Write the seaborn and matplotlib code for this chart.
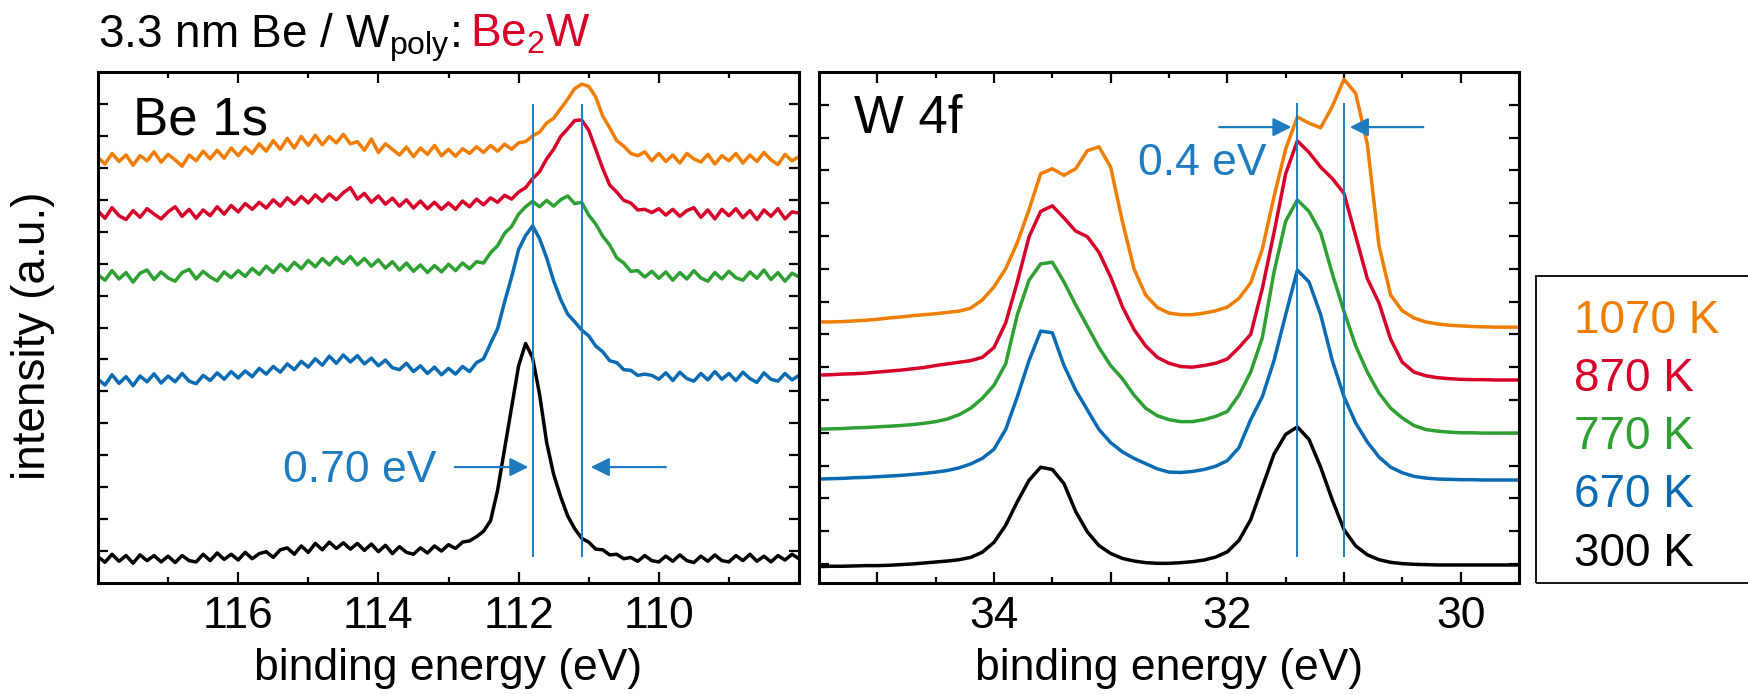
import numpy as np
import pandas as pd
import matplotlib
matplotlib.use("Agg")
import matplotlib.pyplot as plt
import seaborn as sns
from matplotlib.patches import Rectangle

# ---------------- data ----------------
temps = ["1070 K", "870 K", "770 K", "670 K", "300 K"]
colors = ["#EF7D00", "#D7002A", "#2E9F32", "#0A6BB3", "#000000"]
ann_blue = "#1E7BC0"

# Be 1s, binding energy 118.0 -> 108.0 eV in 0.1 eV steps
be_energy = np.round(np.linspace(118.0, 108.0, 101), 2)
be_1070 = [13.32, 13.12, 13.45, 13.20, 13.40, 13.08, 13.38, 13.22, 13.50, 13.18,
           13.42, 13.25, 13.05, 13.40, 13.22, 13.52, 13.28, 13.55, 13.30, 13.62,
           13.38, 13.65, 13.45, 13.75, 13.52, 13.85, 13.58, 13.92, 13.62, 13.98,
           13.70, 14.02, 13.72, 13.98, 13.78, 14.05, 13.75, 13.82, 13.55, 13.90,
           13.48, 13.75, 13.58, 13.40, 13.65, 13.35, 13.62, 13.42, 13.70, 13.38,
           13.58, 13.36, 13.60, 13.45, 13.66, 13.48, 13.70, 13.52, 13.74, 13.58,
           13.78, 13.82, 14.00, 14.12, 14.40, 14.55, 14.85, 15.15, 15.48, 15.62,
           15.55, 15.22, 14.62, 14.25, 13.85, 13.68, 13.45, 13.38, 13.50, 13.22,
           13.45, 13.20, 13.40, 13.15, 13.45, 13.28, 13.18, 13.42, 13.12, 13.38,
           13.22, 13.45, 13.15, 13.40, 13.20, 13.48, 13.25, 13.10, 13.42, 13.22,
           13.35]
be_870 = [11.65, 11.42, 11.75, 11.50, 11.38, 11.66, 11.45, 11.72, 11.55, 11.40,
          11.62, 11.78, 11.48, 11.70, 11.42, 11.68, 11.50, 11.78, 11.55, 11.82,
          11.62, 11.88, 11.70, 11.92, 11.74, 12.00, 11.80, 12.06, 11.86, 12.10,
          11.90, 12.15, 11.95, 12.18, 12.00, 12.22, 12.38, 12.02, 12.20, 11.92,
          12.12, 11.86, 12.05, 11.80, 12.00, 11.74, 11.96, 11.72, 11.92, 11.70,
          11.90, 11.70, 11.96, 11.78, 12.02, 11.84, 12.06, 11.92, 12.14, 12.02,
          12.24, 12.38, 12.66, 12.88, 13.28, 13.58, 13.98, 14.22, 14.48, 14.50,
          14.18, 13.58, 12.98, 12.46, 12.24, 11.98, 11.90, 11.68, 11.70, 11.60,
          11.72, 11.52, 11.70, 11.48, 11.66, 11.75, 11.45, 11.68, 11.40, 11.70,
          11.50, 11.72, 11.44, 11.66, 11.38, 11.68, 11.48, 11.72, 11.40, 11.62,
          11.58]
be_770 = [9.65, 9.48, 9.78, 9.52, 9.72, 9.42, 9.70, 9.80, 9.50, 9.74,
          9.55, 9.45, 9.72, 9.82, 9.52, 9.76, 9.58, 9.46, 9.74, 9.56,
          9.78, 9.60, 9.85, 9.66, 9.92, 9.72, 9.98, 9.78, 10.04, 9.84,
          10.10, 9.90, 10.16, 9.96, 10.20, 10.00, 10.22, 9.96, 10.16, 9.92,
          10.12, 9.86, 10.06, 9.80, 10.02, 9.76, 9.96, 9.72, 9.94, 9.74,
          9.98, 9.78, 10.02, 9.84, 10.06, 10.02, 10.34, 10.56, 10.95, 11.16,
          11.55, 11.78, 11.95, 11.78, 11.98, 11.80, 12.00, 12.12, 11.88, 11.92,
          11.52, 11.24, 10.86, 10.58, 10.18, 10.02, 9.76, 9.78, 9.58, 9.76,
          9.54, 9.74, 9.48, 9.72, 9.52, 9.78, 9.55, 9.45, 9.72, 9.52,
          9.76, 9.56, 9.48, 9.74, 9.54, 9.80, 9.50, 9.72, 9.45, 9.70,
          9.58]
be_670 = [6.38, 6.20, 6.52, 6.25, 6.46, 6.18, 6.48, 6.30, 6.55, 6.26,
          6.48, 6.30, 6.56, 6.32, 6.24, 6.50, 6.34, 6.58, 6.38, 6.62,
          6.42, 6.64, 6.46, 6.72, 6.54, 6.78, 6.60, 6.86, 6.68, 6.94,
          6.76, 7.02, 6.82, 7.10, 6.88, 7.14, 6.92, 7.12, 6.86, 7.04,
          6.80, 6.98, 6.74, 6.68, 6.88, 6.62, 6.80, 6.56, 6.76, 6.52,
          6.72, 6.54, 6.78, 6.62, 6.90, 7.02, 7.50, 7.96, 8.80, 9.58,
          10.44, 10.88, 11.18, 10.78, 10.18, 9.46, 8.88, 8.42, 8.18, 7.92,
          7.74, 7.42, 7.24, 6.96, 6.90, 6.68, 6.66, 6.50, 6.54, 6.50,
          6.38, 6.58, 6.34, 6.60, 6.40, 6.32, 6.56, 6.36, 6.62, 6.38,
          6.56, 6.34, 6.60, 6.40, 6.28, 6.58, 6.38, 6.32, 6.56, 6.36,
          6.50]
be_300 = [0.82, 0.65, 0.90, 0.68, 0.86, 0.62, 0.88, 0.70, 0.86, 0.66,
          0.84, 0.64, 0.86, 0.70, 0.66, 0.90, 0.70, 0.94, 0.74, 0.90,
          0.72, 0.96, 0.76, 0.92, 0.98, 0.80, 1.04, 1.10, 0.90, 1.16,
          0.96, 1.24, 1.04, 1.28, 1.08, 1.26, 1.06, 1.24, 1.02, 1.22,
          0.98, 1.18, 0.92, 1.14, 0.96, 0.90, 1.10, 0.94, 1.16, 1.00,
          1.20, 1.08, 1.28, 1.32, 1.45, 1.62, 1.95, 2.90, 4.20, 5.50,
          6.80, 7.50, 7.05, 5.90, 4.40, 3.40, 2.70, 2.10, 1.70, 1.40,
          1.28, 1.06, 1.04, 0.88, 0.90, 0.76, 0.80, 0.68, 0.86, 0.70,
          0.66, 0.84, 0.68, 0.88, 0.70, 0.64, 0.84, 0.68, 0.88, 0.70,
          0.66, 0.86, 0.70, 0.90, 0.68, 0.84, 0.66, 0.86, 0.72, 0.90,
          0.76]

# W 4f, binding energy 35.5 -> 29.5 eV in 0.1 eV steps
w_energy = np.round(np.linspace(35.5, 29.5, 61), 2)
w_1070 = [7.38, 7.38, 7.39, 7.41, 7.43, 7.46, 7.50, 7.53, 7.57, 7.60,
          7.63, 7.67, 7.71, 7.80, 8.05, 8.45, 9.00, 9.80, 10.80, 11.90,
          12.05, 11.85, 12.05, 12.60, 12.72, 12.10, 10.45, 9.00, 8.20, 7.82,
          7.65, 7.60, 7.60, 7.65, 7.72, 7.83, 8.10, 8.57, 9.60, 11.20,
          12.65, 13.63, 13.44, 13.30, 13.95, 14.78, 14.35, 12.80, 9.70, 8.20,
          7.72, 7.50, 7.38, 7.32, 7.28, 7.26, 7.24, 7.23, 7.22, 7.22,
          7.22]
w_870 = [5.76, 5.77, 5.79, 5.80, 5.82, 5.85, 5.88, 5.91, 5.95, 5.99,
         6.05, 6.10, 6.15, 6.20, 6.30, 6.60, 7.35, 8.60, 9.97, 10.75,
         10.92, 10.55, 10.15, 9.98, 9.50, 8.75, 7.85, 7.15, 6.65, 6.30,
         6.12, 6.02, 6.00, 6.05, 6.12, 6.25, 6.60, 7.00, 8.40, 10.10,
         11.90, 12.90, 12.55, 12.10, 11.75, 11.30, 10.00, 8.70, 7.96, 6.85,
         6.15, 5.85, 5.74, 5.68, 5.65, 5.63, 5.62, 5.62, 5.61, 5.61,
         5.61]
w_770 = [4.11, 4.12, 4.13, 4.15, 4.16, 4.18, 4.20, 4.22, 4.25, 4.29,
         4.34, 4.42, 4.55, 4.75, 5.05, 5.45, 6.10, 7.60, 8.65, 9.15,
         9.20, 8.60, 7.90, 7.25, 6.60, 6.05, 5.65, 5.15, 4.75, 4.52,
         4.40, 4.34, 4.34, 4.40, 4.50, 4.65, 5.15, 5.85, 6.90, 8.90,
         10.45, 11.10, 10.75, 10.10, 8.85, 7.70, 6.65, 5.85, 5.21, 4.75,
         4.45, 4.22, 4.10, 4.05, 4.02, 4.00, 4.00, 3.99, 3.99, 3.99,
         3.99]
w_670 = [2.59, 2.60, 2.61, 2.63, 2.64, 2.66, 2.68, 2.70, 2.73, 2.76,
         2.80, 2.85, 2.93, 3.05, 3.22, 3.50, 4.10, 5.10, 6.20, 7.10,
         7.05, 6.05, 5.30, 4.70, 4.10, 3.70, 3.42, 3.22, 3.06, 2.90,
         2.80, 2.79, 2.82, 2.88, 2.98, 3.15, 3.55, 4.40, 5.10, 6.20,
         7.60, 8.96, 8.60, 7.60, 6.20, 5.10, 4.30, 3.72, 3.26, 2.95,
         2.78, 2.67, 2.62, 2.59, 2.58, 2.57, 2.57, 2.56, 2.56, 2.56,
         2.56]
w_300 = [-0.08, -0.07, -0.07, -0.06, -0.05, -0.05, -0.04, -0.02, 0.00, 0.03,
         0.06, 0.09, 0.13, 0.20, 0.36, 0.66, 1.18, 1.90, 2.55, 2.95,
         2.88, 2.45, 1.60, 0.98, 0.56, 0.32, 0.17, 0.09, 0.04, 0.02,
         0.02, 0.04, 0.07, 0.12, 0.21, 0.37, 0.72, 1.35, 2.35, 3.35,
         3.95, 4.18, 3.80, 2.95, 1.95, 1.05, 0.55, 0.28, 0.13, 0.05,
         0.01, -0.01, -0.02, -0.03, -0.03, -0.03, -0.03, -0.03, -0.03, -0.03,
         -0.03]

be_lines = [111.8, 111.1]
w_lines = [31.4, 31.0]
be_shift_label = "0.70 eV"
w_shift_label = "0.4 eV"

be_series = [be_1070, be_870, be_770, be_670, be_300]
w_series = [w_1070, w_870, w_770, w_670, w_300]
for s in be_series:
    assert len(s) == len(be_energy), len(s)
for s in w_series:
    assert len(s) == len(w_energy), len(s)


def long_df(energy, series):
    frames = []
    for t, vals in zip(temps, series):
        frames.append(pd.DataFrame({"energy": energy, "intensity": vals, "temperature": t}))
    return pd.concat(frames, ignore_index=True)


be_df = long_df(be_energy, be_series)
w_df = long_df(w_energy, w_series)
palette = dict(zip(temps, colors))

# ---------------- style ----------------
sns.set_theme(style="ticks")
plt.rcParams["font.family"] = ["Liberation Sans", "DejaVu Sans"]
plt.rcParams["mathtext.default"] = "regular"
plt.rcParams.update({
    "xtick.direction": "in", "ytick.direction": "in",
    "xtick.top": True, "ytick.right": True,
    "axes.linewidth": 2.2,
    "text.color": "black", "axes.labelcolor": "black",
    "xtick.color": "black", "ytick.color": "black",
    "axes.edgecolor": "black",
    "lines.solid_joinstyle": "round",
})

W, H = 1748, 694
fig = plt.figure(figsize=(W / 100, H / 100), dpi=100)
fig.patch.set_facecolor("white")


def fx(px):
    return px / W


def fy(py):
    return 1 - py / H


ax1 = fig.add_axes([fx(98), fy(583), (799 - 98) / W, (583 - 72) / H])
ax2 = fig.add_axes([fx(819), fy(583), (1519 - 819) / W, (583 - 72) / H])

for ax, df in ((ax1, be_df), (ax2, w_df)):
    sns.lineplot(data=df, x="energy", y="intensity", hue="temperature",
                 palette=palette, estimator=None, sort=False, legend=False,
                 linewidth=2.5, ax=ax)
    for ln in ax.lines:
        ln.set_solid_joinstyle("round")
    ax.set_facecolor("white")
    for sp in ax.spines.values():
        sp.set_visible(True)
        sp.set_linewidth(2.2)
        sp.set_color("black")
    ax.set_ylabel("")
    ax.set_xlabel("binding energy (eV)", fontsize=32, labelpad=8, color="black")
    ax.tick_params(axis="both", which="major", length=8, width=1.6, color="black",
                   labelcolor="black", labelsize=32, pad=9, top=True, right=True)
    ax.tick_params(axis="both", which="minor", length=4.5, width=1.6, color="black",
                   top=True, right=True)
    ax.tick_params(axis="y", labelleft=False, labelright=False, length=7)

# Be 1s axes
ax1.set_xlim(118, 108)
ax1.set_ylim(0, 16)
ax1.set_xticks([116, 114, 112, 110])
ax1.set_xticklabels(["116", "114", "112", "110"])
ax1.set_xticks([117, 115, 113, 111, 109], minor=True)
ax1.set_yticks(range(1, 16))

# W 4f axes
ax2.set_xlim(35.5, 29.5)
ax2.set_ylim(-0.58, 15.0)
ax2.set_xticks([35, 34, 33, 32, 31, 30])
ax2.set_xticklabels(["", "34", "", "32", "", "30"])
ax2.set_xticks([34.5, 33.5, 32.5, 31.5, 30.5], minor=True)
ax2.set_yticks(range(0, 15))

# shift markers
for x in be_lines:
    ax1.vlines(x, 0.8, 15.0, color=ann_blue, lw=1.4, zorder=4)
for x in w_lines:
    ax2.vlines(x, 0.21, 14.05, color=ann_blue, lw=1.4, zorder=4)

arrow_kw = dict(arrowstyle="-|>", color=ann_blue, lw=1.6, mutation_scale=28,
                shrinkA=0, shrinkB=0)
ax1.annotate("", xy=(111.86, 3.63), xytext=(112.91, 3.63), arrowprops=arrow_kw, zorder=5)
ax1.annotate("", xy=(110.97, 3.63), xytext=(109.90, 3.63), arrowprops=arrow_kw, zorder=5)
ax1.text(113.17, 3.16, be_shift_label, color=ann_blue, fontsize=32,
         ha="right", va="baseline")

ax2.annotate("", xy=(31.45, 13.32), xytext=(32.07, 13.32), arrowprops=arrow_kw, zorder=5)
ax2.annotate("", xy=(30.95, 13.32), xytext=(30.32, 13.32), arrowprops=arrow_kw, zorder=5)
ax2.text(31.66, 11.86, w_shift_label, color=ann_blue, fontsize=32,
         ha="right", va="baseline")

# panel labels
ax1.text(0.05, 0.877, "Be 1s", transform=ax1.transAxes, fontsize=38,
         ha="left", va="baseline", color="black")
ax2.text(0.0507, 0.88, "W 4f", transform=ax2.transAxes, fontsize=38,
         ha="left", va="baseline", color="black")

# y label
fig.text(fx(33), fy(336), "intensity (a.u.)", rotation=90, fontsize=33,
         ha="center", va="center", color="black")

# title (black part + red compound)
t1 = fig.text(fx(98), fy(47), r"3.3 nm Be / W$_{poly}$:", fontsize=33,
              ha="left", va="baseline", color="black")
fig.canvas.draw()
bb = t1.get_window_extent()
fig.text((bb.x1 + 10) / W, fy(47), r"Be$_{2}$W", fontsize=33,
         ha="left", va="baseline", color="#D7002A")

# legend box with coloured labels
fig.patches.append(Rectangle((fx(1536), fy(583)), (1760 - 1536) / W, (583 - 276) / H,
                             transform=fig.transFigure, fill=False,
                             edgecolor="black", lw=1.3, clip_on=False))
leg_baselines = [333, 391, 449, 507, 566]
for t, c, yb in zip(temps, colors, leg_baselines):
    fig.text(fx(1574), fy(yb), t, color=c, fontsize=33, ha="left", va="baseline")

fig.savefig("out.png", dpi=100, facecolor="white")
